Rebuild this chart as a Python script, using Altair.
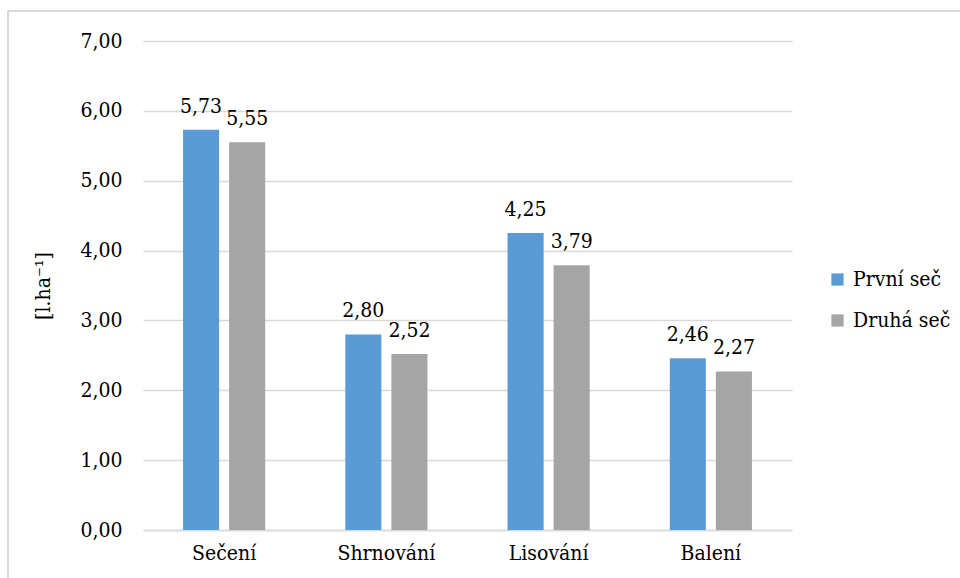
import altair as alt
import pandas as pd

categories = ["Sečení", "Shrnování", "Lisování", "Balení"]
series_names = ["První seč", "Druhá seč"]
prvni = [5.73, 2.80, 4.25, 2.46]
druha = [5.55, 2.52, 3.79, 2.27]
y_ticks = [0, 1, 2, 3, 4, 5, 6, 7]

rows = []
for i, c in enumerate(categories):
    rows.append({"kat": c, "serie": series_names[0], "val": prvni[i]})
    rows.append({"kat": c, "serie": series_names[1], "val": druha[i]})
df = pd.DataFrame(rows)
df["lab"] = df["val"].map(lambda v: f"{v:.2f}".replace(".", ","))

FONT = "DejaVu Serif Condensed"
FS = 21

x = alt.X("kat:N", sort=categories, title=None,
          scale=alt.Scale(paddingInner=0, paddingOuter=0),
          axis=alt.Axis(labelAngle=0, labelFont=FONT, labelFontSize=FS, labelColor="#000000",
                        labelPadding=12, ticks=False, domainColor="#D9D9D9", domainWidth=1.5))
xo = alt.XOffset("serie:N", sort=series_names,
                 scale=alt.Scale(paddingInner=0.217, paddingOuter=0.869))
y = alt.Y("val:Q", title="[l.ha⁻¹]",
          scale=alt.Scale(domain=[0, 7], nice=False, zero=True),
          axis=alt.Axis(values=y_ticks, labelExpr="replace(format(datum.value, '.2f'), '.', ',')",
                        labelFont=FONT, labelFontSize=FS, labelColor="#000000", labelPadding=21,
                        ticks=False, domain=False, gridColor="#D9D9D9", gridWidth=1.5,
                        titleFont=FONT, titleFontSize=FS, titleFontWeight="normal",
                        titleColor="#000000", titlePadding=26))
color = alt.Color("serie:N", sort=series_names,
                  scale=alt.Scale(domain=series_names, range=["#5B9BD5", "#A5A5A5"]),
                  legend=alt.Legend(title=None, orient="none", legendX=684, legendY=228,
                                    symbolType="square", symbolSize=150, symbolStrokeWidth=0,
                                    labelFont=FONT, labelFontSize=FS, labelColor="#000000",
                                    rowPadding=19, labelOffset=5, padding=0))

bars = alt.Chart(df).mark_bar().encode(x=x, xOffset=xo, y=y, color=color)
labels = alt.Chart(df).mark_text(font=FONT, fontSize=FS, color="#000000",
                                 baseline="alphabetic", dy=-17).encode(
    x=alt.X("kat:N", sort=categories), xOffset=xo, y="val:Q", text="lab:N")

border = alt.Chart(pd.DataFrame({"a": [0]})).mark_rect(
    fill=None, stroke="#D9D9D9", strokeWidth=2, clip=False).encode(
    x=alt.value(-135), x2=alt.value(830), y=alt.value(-30), y2=alt.value(560))

chart = alt.layer(bars, labels, border).properties(
    width=649, height=489,
    autosize=alt.AutoSizeParams(type="none"),
    padding={"left": 143, "top": 41, "right": 168, "bottom": 48},
    background="white",
).configure_view(stroke=None)

chart.save("out.html", embed_options={"renderer": "svg", "actions": False})
